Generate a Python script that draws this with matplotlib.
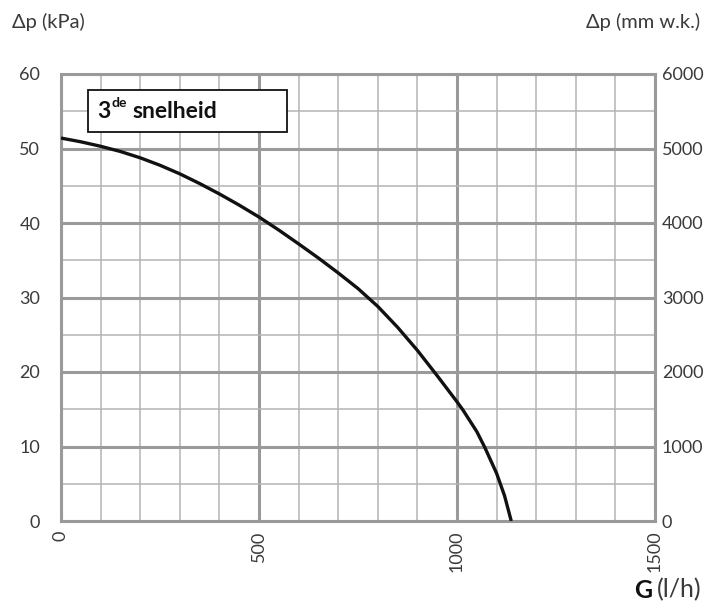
import numpy as np
import matplotlib
matplotlib.use("Agg")
import matplotlib.pyplot as plt
from matplotlib.patches import Rectangle

plt.rcParams['font.family'] = ['Lato', 'DejaVu Sans']

# pompcurve, 3de snelheid
G_flow = [0, 50, 100, 150, 200, 250, 300, 350, 400, 450, 500, 550, 600, 650, 700,
          750, 800, 850, 900, 950, 1000, 1015, 1050, 1070, 1100, 1120, 1137]
dp_kpa = [51.4, 50.9, 50.3, 49.6, 48.75, 47.75, 46.6, 45.3, 43.9, 42.4, 40.8, 39.05,
          37.2, 35.3, 33.3, 31.2, 28.8, 26.0, 22.9, 19.5, 16.0, 14.9, 12.0, 9.9,
          6.4, 3.4, 0]

x_ticks = [0, 500, 1000, 1500]
y_ticks = [0, 10, 20, 30, 40, 50, 60]
y2_ticks = [0, 1000, 2000, 3000, 4000, 5000, 6000]

grid_major = "#9a9a9a"
grid_minor = "#b4b4b4"
txt_col = "#3a3a3a"

fig = plt.figure(figsize=(7.06, 6.12), dpi=100)
ax = fig.add_axes([61 / 706, 91 / 612, 594 / 706, 447 / 612])

ax.set_xlim(0, 1500)
ax.set_ylim(0, 60)

# raster
for xv in np.arange(0, 1501, 100):
    major = xv % 500 == 0
    ax.axvline(xv, color=grid_major if major else grid_minor, lw=2.2 if major else 1.1, zorder=1)
for yv in np.arange(0, 61, 5):
    major = yv % 10 == 0
    ax.axhline(yv, color=grid_major if major else grid_minor, lw=2.2 if major else 1.1, zorder=1)

ax.plot(G_flow, dp_kpa, color="#111111", lw=2.4, zorder=3, solid_capstyle="butt",
        solid_joinstyle="round")

for s in ax.spines.values():
    s.set_color(grid_major)
    s.set_linewidth(2.2)

ax.set_xticks(x_ticks)
ax.set_xticklabels([str(v) for v in x_ticks], rotation=90, fontsize=13, color=txt_col)
ax.set_yticks(y_ticks)
ax.set_yticklabels([str(v) for v in y_ticks], fontsize=13, color=txt_col)
ax.tick_params(axis="x", length=0, pad=7)
ax.tick_params(axis="y", length=0, pad=15)

ax2 = ax.twinx()
ax2.set_ylim(0, 6000)
ax2.set_yticks(y2_ticks)
ax2.set_yticklabels([str(v) for v in y2_ticks], fontsize=13, color=txt_col)
ax2.tick_params(axis="y", length=0, pad=5)
for s in ax2.spines.values():
    s.set_visible(False)

# legenda
ax.add_patch(Rectangle((68, 52.2), 503, 5.65, fc="white", ec="#111111", lw=1.3, zorder=5))
t3 = ax.text(91, 55.0, "3", fontsize=16.5, fontweight="bold", color="#111111",
             va="center", ha="left", zorder=6)
tde = ax.annotate("de", xy=(1.05, 0.6), xycoords=t3, fontsize=10, fontweight="bold",
                  color="#111111", va="bottom", ha="left", zorder=6)
ax.annotate("snelheid", xy=(1.0, 0.0), xycoords=(tde, t3), xytext=(4, 0),
            textcoords="offset points", fontsize=16.5, fontweight="bold",
            color="#111111", va="bottom", ha="left", zorder=6)

fig.text(12 / 706, 1 - 22 / 612, "Δp (kPa)", fontsize=14.5, color=txt_col,
         va="center", ha="left")
fig.text(700 / 706, 1 - 22 / 612, "Δp (mm w.k.)", fontsize=14.5, color=txt_col,
         va="center", ha="right")
tl = fig.text(701 / 706, 1 - 590 / 612, "(l/h)", fontsize=18, color=txt_col,
              va="center", ha="right")
fig.canvas.draw()
bb = tl.get_window_extent()
fig.text((bb.x0 - 4) / 706, 1 - 590 / 612, "G", fontsize=18, fontweight="bold",
         color="#111111", va="center", ha="right")

fig.savefig("out.png", dpi=100)
